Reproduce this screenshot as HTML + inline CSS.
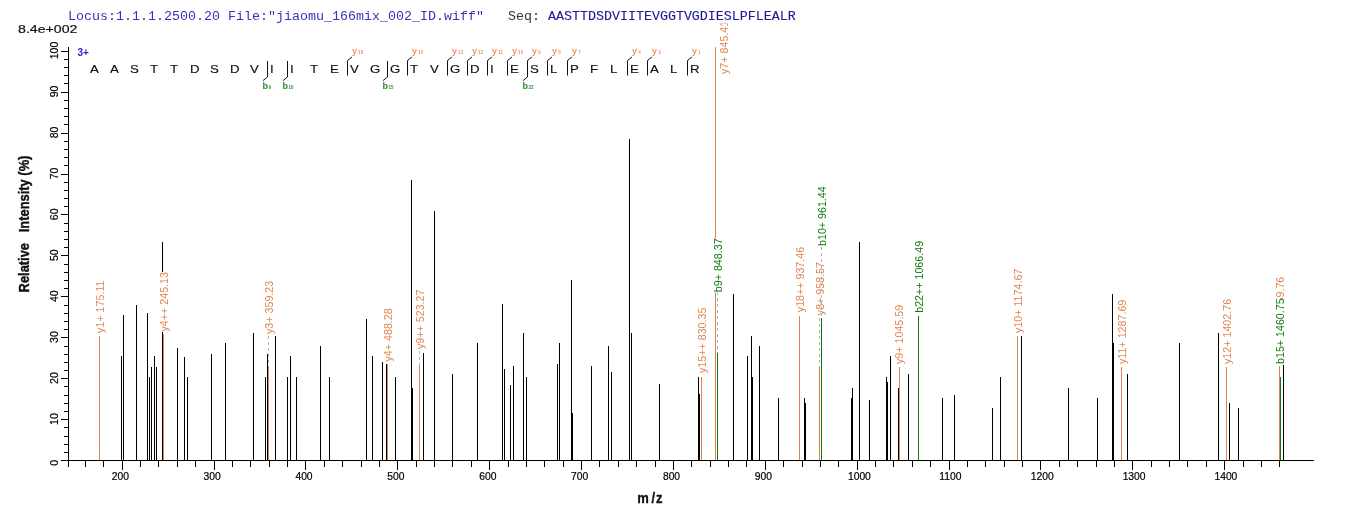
<!DOCTYPE html>
<html><head><meta charset="utf-8"><title>Spectrum</title>
<style>
html,body{margin:0;padding:0;background:#fff}
body{width:1362px;height:520px;position:relative;overflow:hidden}
.hdr{position:absolute;left:68px;top:9px;font-family:"Liberation Mono",monospace;font-size:13.33px;line-height:16px;white-space:pre;color:#3434bc;z-index:2}
.hdr .s{color:#333}
.hdr .q{color:#1c1c96;-webkit-text-stroke:0.12px #1c1c96}
</style></head><body>
<svg width="1362" height="520" viewBox="0 0 1362 520" style="position:absolute;left:0;top:0;font-family:'Liberation Sans',sans-serif">
<rect width="1362" height="520" fill="#fff"/>
<path d="M121.5 356V460.5M123.5 315V460.5M136.5 305V460.5M147.5 313V460.5M149.5 377V460.5M151.5 367V460.5M154.5 356V460.5M156.5 367V460.5M162.5 242V460.5M177.5 348V460.5M184.5 357V460.5M187.5 377V460.5M211.5 354V460.5M225.5 343V460.5M253.5 333V460.5M265.5 377V460.5M267.5 354V460.5M275.5 336V460.5M287.5 377V460.5M290.5 356V460.5M296.5 377V460.5M320.5 346V460.5M329.5 377V460.5M366.5 319V460.5M372.5 356V460.5M382.5 362V460.5M386.5 364V460.5M395.5 377V460.5M411.5 180V460.5M412.5 388V460.5M423.5 353V460.5M434.5 211V460.5M452.5 374V460.5M477.5 343V460.5M502.5 304V460.5M504.5 369V460.5M510.5 385V460.5M513.5 366V460.5M523.5 333V460.5M526.5 377V460.5M557.5 364V460.5M559.5 343V460.5M571.5 280V460.5M572.5 413V460.5M591.5 366V460.5M608.5 346V460.5M611.5 372V460.5M629.5 139V460.5M631.5 333V460.5M659.5 384V460.5M698.5 377V460.5M699.5 394V460.5M733.5 294V460.5M747.5 356V460.5M751.5 336V460.5M752.5 377V460.5M759.5 346V460.5M778.5 398V460.5M804.5 398V460.5M805.5 403V460.5M851.5 398V460.5M852.5 388V460.5M859.5 242V460.5M869.5 400V460.5M886.5 377V460.5M887.5 382V460.5M890.5 356V460.5M898.5 388V460.5M908.5 374V460.5M942.5 398V460.5M954.5 395V460.5M992.5 408V460.5M1000.5 377V460.5M1021.5 336V460.5M1068.5 388V460.5M1097.5 398V460.5M1112.5 294V460.5M1113.5 343V460.5M1127.5 374V460.5M1179.5 343V460.5M1218.5 333V460.5M1229.5 403V460.5M1238.5 408V460.5M1283.5 365V460.5" stroke="#000" stroke-width="1" fill="none" shape-rendering="crispEdges"/>
<path d="M99.5 336V460.5M163.5 334V460.5M268.5 366V460.5M387.5 364V460.5M419.5 365V460.5M701.5 377V460.5M715.5 47V460.5M799.5 315.5V460.5M819.5 366V460.5M899.5 367V460.5M1017.5 336V460.5M1121.5 367V460.5M1226.5 367V460.5M1279.5 366V460.5" stroke="#E2834F" stroke-width="1" fill="none" shape-rendering="crispEdges"/>
<rect x="93.5" y="278.9" width="13" height="54.5" fill="#fff"/>
<text transform="translate(103.5 332.9) rotate(-90)" font-size="10.7" fill="#E2834F">y1+ 175.11</text>
<rect x="157.5" y="272.1" width="13" height="59.9" fill="#fff"/>
<text transform="translate(167.5 331.5) rotate(-90)" font-size="10.7" fill="#E2834F">y4++ 245.13</text>
<rect x="262.5" y="280.0" width="13" height="54.5" fill="#fff"/>
<text transform="translate(272.5 334) rotate(-90)" font-size="10.7" fill="#E2834F">y3+ 359.23</text>
<rect x="381.5" y="307.5" width="13" height="54.5" fill="#fff"/>
<text transform="translate(391.5 361.5) rotate(-90)" font-size="10.7" fill="#E2834F">y4+ 488.28</text>
<rect x="413.5" y="289.6" width="13" height="59.9" fill="#fff"/>
<text transform="translate(423.5 349) rotate(-90)" font-size="10.7" fill="#E2834F">y9++ 523.27</text>
<rect x="696.0" y="308.2" width="13" height="65.3" fill="#fff"/>
<text transform="translate(706.0 373) rotate(-90)" font-size="10.7" fill="#E2834F">y15++ 830.35</text>
<rect x="793.5" y="247.4" width="13" height="65.3" fill="#fff"/>
<text transform="translate(803.5 312.2) rotate(-90)" font-size="10.7" fill="#E2834F">y18++ 937.46</text>
<rect x="813.5" y="261.2" width="13" height="54.5" fill="#fff"/>
<text transform="translate(823.5 315.2) rotate(-90)" font-size="10.7" fill="#E2834F">y8+ 958.57</text>
<rect x="892.5" y="304.6" width="13" height="59.9" fill="#fff"/>
<text transform="translate(902.5 364) rotate(-90)" font-size="10.7" fill="#E2834F">y9+ 1045.59</text>
<rect x="1011.5" y="268.2" width="13" height="65.3" fill="#fff"/>
<text transform="translate(1021.5 333) rotate(-90)" font-size="10.7" fill="#E2834F">y10+ 1174.67</text>
<rect x="1115.5" y="299.2" width="13" height="65.3" fill="#fff"/>
<text transform="translate(1125.5 364) rotate(-90)" font-size="10.7" fill="#E2834F">y11+ 1287.69</text>
<rect x="1220.5" y="299.2" width="13" height="65.3" fill="#fff"/>
<text transform="translate(1230.5 364) rotate(-90)" font-size="10.7" fill="#E2834F">y12+ 1402.76</text>
<rect x="1273.8" y="277.0" width="13" height="65.3" fill="#fff"/>
<text transform="translate(1283.8 341.8) rotate(-90)" font-size="10.7" fill="#E2834F">y13+ 1459.76</text>
<path d="M268.5 336V366M419.5 351V365" stroke="#b0b6b0" stroke-width="1" stroke-dasharray="3 3" fill="none" shape-rendering="crispEdges"/>
<clipPath id="c7"><rect x="700" y="23.5" width="60" height="100"/></clipPath>
<g clip-path="url(#c7)"><text transform="translate(727.5 74) rotate(-90)" font-size="10.7" fill="#E2834F">y7+ 845.41</text></g>
<path d="M717.5 353V460.5M821.5 318V460.5M918.5 315.5V460.5M1280.5 377V460.5" stroke="#0E7A0E" stroke-width="1" fill="none" shape-rendering="crispEdges"/>
<rect x="712.0" y="238.2" width="13" height="54.5" fill="#fff"/>
<text transform="translate(722.0 292.2) rotate(-90)" font-size="10.7" fill="#0E7A0E">b9+ 848.37</text>
<rect x="815.5" y="186.6" width="13" height="59.9" fill="#fff"/>
<text transform="translate(825.5 246) rotate(-90)" font-size="10.7" fill="#0E7A0E">b10+ 961.44</text>
<rect x="912.5" y="242.6" width="13" height="70.7" fill="#fff"/>
<text transform="translate(922.5 312.8) rotate(-90)" font-size="10.7" fill="#0E7A0E">b22++ 1066.49</text>
<rect x="1273.8" y="299.2" width="13" height="65.3" fill="#fff"/>
<text transform="translate(1283.8 364) rotate(-90)" font-size="10.7" fill="#0E7A0E">b15+ 1460.75</text>
<path d="M717.5 292V353M819.5 318V366M821.5 247V318" stroke="#b0b6b0" stroke-width="1" stroke-dasharray="3 3" fill="none" shape-rendering="crispEdges"/>
<path d="M68.5 47V467M68 460.5H1314M61 460.5H68M64 452.5H68M64 444.5H68M64 436.5H68M64 427.5H68M61 419.5H68M64 411.5H68M64 403.5H68M64 395.5H68M64 386.5H68M61 378.5H68M64 370.5H68M64 362.5H68M64 354.5H68M64 346.5H68M61 337.5H68M64 329.5H68M64 321.5H68M64 313.5H68M64 305.5H68M61 296.5H68M64 288.5H68M64 280.5H68M64 272.5H68M64 264.5H68M61 255.5H68M64 247.5H68M64 239.5H68M64 231.5H68M64 223.5H68M61 214.5H68M64 206.5H68M64 198.5H68M64 190.5H68M64 182.5H68M61 174.5H68M64 165.5H68M64 157.5H68M64 149.5H68M64 141.5H68M61 133.5H68M64 124.5H68M64 116.5H68M64 108.5H68M64 100.5H68M61 92.5H68M64 83.5H68M64 75.5H68M64 67.5H68M64 59.5H68M61 51.5H68M85.5 460V467M103.5 460V467M122.5 460V470M140.5 460V467M158.5 460V467M177.5 460V467M195.5 460V467M214.5 460V470M232.5 460V467M250.5 460V467M269.5 460V467M287.5 460V467M305.5 460V470M324.5 460V467M342.5 460V467M361.5 460V467M379.5 460V467M397.5 460V470M416.5 460V467M434.5 460V467M452.5 460V467M471.5 460V467M489.5 460V470M508.5 460V467M526.5 460V467M544.5 460V467M563.5 460V467M581.5 460V470M599.5 460V467M618.5 460V467M636.5 460V467M655.5 460V467M673.5 460V470M691.5 460V467M710.5 460V467M728.5 460V467M746.5 460V467M765.5 460V470M783.5 460V467M802.5 460V467M820.5 460V467M838.5 460V467M857.5 460V470M875.5 460V467M893.5 460V467M912.5 460V467M930.5 460V467M949.5 460V470M967.5 460V467M985.5 460V467M1004.5 460V467M1022.5 460V467M1040.5 460V470M1059.5 460V467M1077.5 460V467M1096.5 460V467M1114.5 460V467M1132.5 460V470M1151.5 460V467M1169.5 460V467M1187.5 460V467M1206.5 460V467M1224.5 460V470M1243.5 460V467M1261.5 460V467M1279.5 460V467" stroke="#000" stroke-width="1" fill="none" shape-rendering="crispEdges"/>
<text x="120.3" y="480" font-size="10.3" text-anchor="middle" fill="#000" stroke="#000" stroke-width="0.2">200</text>
<text x="212.2" y="480" font-size="10.3" text-anchor="middle" fill="#000" stroke="#000" stroke-width="0.2">300</text>
<text x="304.0" y="480" font-size="10.3" text-anchor="middle" fill="#000" stroke="#000" stroke-width="0.2">400</text>
<text x="395.9" y="480" font-size="10.3" text-anchor="middle" fill="#000" stroke="#000" stroke-width="0.2">500</text>
<text x="487.8" y="480" font-size="10.3" text-anchor="middle" fill="#000" stroke="#000" stroke-width="0.2">600</text>
<text x="579.6" y="480" font-size="10.3" text-anchor="middle" fill="#000" stroke="#000" stroke-width="0.2">700</text>
<text x="671.5" y="480" font-size="10.3" text-anchor="middle" fill="#000" stroke="#000" stroke-width="0.2">800</text>
<text x="763.4" y="480" font-size="10.3" text-anchor="middle" fill="#000" stroke="#000" stroke-width="0.2">900</text>
<text x="859.4" y="480" font-size="10.3" text-anchor="middle" fill="#000" stroke="#000" stroke-width="0.2">1000</text>
<text x="950.3" y="480" font-size="10.3" text-anchor="middle" fill="#000" stroke="#000" stroke-width="0.2">1100</text>
<text x="1042.2" y="480" font-size="10.3" text-anchor="middle" fill="#000" stroke="#000" stroke-width="0.2">1200</text>
<text x="1134.1" y="480" font-size="10.3" text-anchor="middle" fill="#000" stroke="#000" stroke-width="0.2">1300</text>
<text x="1225.9" y="480" font-size="10.3" text-anchor="middle" fill="#000" stroke="#000" stroke-width="0.2">1400</text>
<text transform="translate(58 462.8) rotate(-90) scale(1 1.05)" font-size="10.5" text-anchor="middle" fill="#000" stroke="#000" stroke-width="0.2">0</text>
<text transform="translate(58 419.1) rotate(-90) scale(1 1.05)" font-size="10.5" text-anchor="middle" fill="#000" stroke="#000" stroke-width="0.2">10</text>
<text transform="translate(58 378.1) rotate(-90) scale(1 1.05)" font-size="10.5" text-anchor="middle" fill="#000" stroke="#000" stroke-width="0.2">20</text>
<text transform="translate(58 337.1) rotate(-90) scale(1 1.05)" font-size="10.5" text-anchor="middle" fill="#000" stroke="#000" stroke-width="0.2">30</text>
<text transform="translate(58 296.2) rotate(-90) scale(1 1.05)" font-size="10.5" text-anchor="middle" fill="#000" stroke="#000" stroke-width="0.2">40</text>
<text transform="translate(58 255.2) rotate(-90) scale(1 1.05)" font-size="10.5" text-anchor="middle" fill="#000" stroke="#000" stroke-width="0.2">50</text>
<text transform="translate(58 214.3) rotate(-90) scale(1 1.05)" font-size="10.5" text-anchor="middle" fill="#000" stroke="#000" stroke-width="0.2">60</text>
<text transform="translate(58 173.4) rotate(-90) scale(1 1.05)" font-size="10.5" text-anchor="middle" fill="#000" stroke="#000" stroke-width="0.2">70</text>
<text transform="translate(58 132.4) rotate(-90) scale(1 1.05)" font-size="10.5" text-anchor="middle" fill="#000" stroke="#000" stroke-width="0.2">80</text>
<text transform="translate(58 91.5) rotate(-90) scale(1 1.05)" font-size="10.5" text-anchor="middle" fill="#000" stroke="#000" stroke-width="0.2">90</text>
<text transform="translate(58 50.5) rotate(-90) scale(1 1.05)" font-size="10.5" text-anchor="middle" fill="#000" stroke="#000" stroke-width="0.2">100</text>
<text transform="translate(0 502.7) scale(1 1.08)" x="637.3 651.4 656.1" y="0" font-size="13" font-weight="bold" fill="#111" stroke="#111" stroke-width="0.3">m/z</text>
<text transform="translate(28.6 224) rotate(-90) scale(1 1.13)" font-size="12.9" font-weight="bold" text-anchor="middle" fill="#111" stroke="#111" stroke-width="0.35" style="white-space:pre" xml:space="preserve">Relative   Intensity (%)</text>
<text x="18" y="32.8" font-size="11.8" fill="#111" stroke="#111" stroke-width="0.2" textLength="59.5" lengthAdjust="spacingAndGlyphs">8.4e+002</text>
<text x="77.5" y="55.7" font-size="10" font-weight="bold" fill="#2a1ccc">3+</text>
<text transform="translate(90 72.7) scale(1.16 1)" font-size="11.4" fill="#111" stroke="#111" stroke-width="0.15">A</text>
<text transform="translate(110 72.7) scale(1.16 1)" font-size="11.4" fill="#111" stroke="#111" stroke-width="0.15">A</text>
<text transform="translate(130 72.7) scale(1.16 1)" font-size="11.4" fill="#111" stroke="#111" stroke-width="0.15">S</text>
<text transform="translate(150 72.7) scale(1.16 1)" font-size="11.4" fill="#111" stroke="#111" stroke-width="0.15">T</text>
<text transform="translate(170 72.7) scale(1.16 1)" font-size="11.4" fill="#111" stroke="#111" stroke-width="0.15">T</text>
<text transform="translate(190 72.7) scale(1.16 1)" font-size="11.4" fill="#111" stroke="#111" stroke-width="0.15">D</text>
<text transform="translate(210 72.7) scale(1.16 1)" font-size="11.4" fill="#111" stroke="#111" stroke-width="0.15">S</text>
<text transform="translate(230 72.7) scale(1.16 1)" font-size="11.4" fill="#111" stroke="#111" stroke-width="0.15">D</text>
<text transform="translate(250 72.7) scale(1.16 1)" font-size="11.4" fill="#111" stroke="#111" stroke-width="0.15">V</text>
<text transform="translate(270 72.7) scale(1.16 1)" font-size="11.4" fill="#111" stroke="#111" stroke-width="0.15">I</text>
<text transform="translate(290 72.7) scale(1.16 1)" font-size="11.4" fill="#111" stroke="#111" stroke-width="0.15">I</text>
<text transform="translate(310 72.7) scale(1.16 1)" font-size="11.4" fill="#111" stroke="#111" stroke-width="0.15">T</text>
<text transform="translate(330 72.7) scale(1.16 1)" font-size="11.4" fill="#111" stroke="#111" stroke-width="0.15">E</text>
<text transform="translate(350 72.7) scale(1.16 1)" font-size="11.4" fill="#111" stroke="#111" stroke-width="0.15">V</text>
<text transform="translate(370 72.7) scale(1.16 1)" font-size="11.4" fill="#111" stroke="#111" stroke-width="0.15">G</text>
<text transform="translate(390 72.7) scale(1.16 1)" font-size="11.4" fill="#111" stroke="#111" stroke-width="0.15">G</text>
<text transform="translate(410 72.7) scale(1.16 1)" font-size="11.4" fill="#111" stroke="#111" stroke-width="0.15">T</text>
<text transform="translate(430 72.7) scale(1.16 1)" font-size="11.4" fill="#111" stroke="#111" stroke-width="0.15">V</text>
<text transform="translate(450 72.7) scale(1.16 1)" font-size="11.4" fill="#111" stroke="#111" stroke-width="0.15">G</text>
<text transform="translate(470 72.7) scale(1.16 1)" font-size="11.4" fill="#111" stroke="#111" stroke-width="0.15">D</text>
<text transform="translate(490 72.7) scale(1.16 1)" font-size="11.4" fill="#111" stroke="#111" stroke-width="0.15">I</text>
<text transform="translate(510 72.7) scale(1.16 1)" font-size="11.4" fill="#111" stroke="#111" stroke-width="0.15">E</text>
<text transform="translate(530 72.7) scale(1.16 1)" font-size="11.4" fill="#111" stroke="#111" stroke-width="0.15">S</text>
<text transform="translate(550 72.7) scale(1.16 1)" font-size="11.4" fill="#111" stroke="#111" stroke-width="0.15">L</text>
<text transform="translate(570 72.7) scale(1.16 1)" font-size="11.4" fill="#111" stroke="#111" stroke-width="0.15">P</text>
<text transform="translate(590 72.7) scale(1.16 1)" font-size="11.4" fill="#111" stroke="#111" stroke-width="0.15">F</text>
<text transform="translate(610 72.7) scale(1.16 1)" font-size="11.4" fill="#111" stroke="#111" stroke-width="0.15">L</text>
<text transform="translate(630 72.7) scale(1.16 1)" font-size="11.4" fill="#111" stroke="#111" stroke-width="0.15">E</text>
<text transform="translate(650 72.7) scale(1.16 1)" font-size="11.4" fill="#111" stroke="#111" stroke-width="0.15">A</text>
<text transform="translate(670 72.7) scale(1.16 1)" font-size="11.4" fill="#111" stroke="#111" stroke-width="0.15">L</text>
<text transform="translate(690 72.7) scale(1.16 1)" font-size="11.4" fill="#111" stroke="#111" stroke-width="0.15">R</text>
<text x="352.1" y="53.6" font-size="9" font-weight="bold" fill="#F2956B">y<tspan font-size="4.5" dx="1.2" dy="0">18</tspan></text>
<text x="412.1" y="53.6" font-size="9" font-weight="bold" fill="#F2956B">y<tspan font-size="4.5" dx="1.2" dy="0">15</tspan></text>
<text x="452.1" y="53.6" font-size="9" font-weight="bold" fill="#F2956B">y<tspan font-size="4.5" dx="1.2" dy="0">13</tspan></text>
<text x="472.1" y="53.6" font-size="9" font-weight="bold" fill="#F2956B">y<tspan font-size="4.5" dx="1.2" dy="0">12</tspan></text>
<text x="492.1" y="53.6" font-size="9" font-weight="bold" fill="#F2956B">y<tspan font-size="4.5" dx="1.2" dy="0">11</tspan></text>
<text x="512.1" y="53.6" font-size="9" font-weight="bold" fill="#F2956B">y<tspan font-size="4.5" dx="1.2" dy="0">10</tspan></text>
<text x="532.1" y="53.6" font-size="9" font-weight="bold" fill="#F2956B">y<tspan font-size="4.5" dx="1.2" dy="0">9</tspan></text>
<text x="552.1" y="53.6" font-size="9" font-weight="bold" fill="#F2956B">y<tspan font-size="4.5" dx="1.2" dy="0">8</tspan></text>
<text x="572.1" y="53.6" font-size="9" font-weight="bold" fill="#F2956B">y<tspan font-size="4.5" dx="1.2" dy="0">7</tspan></text>
<text x="632.1" y="53.6" font-size="9" font-weight="bold" fill="#F2956B">y<tspan font-size="4.5" dx="1.2" dy="0">4</tspan></text>
<text x="652.1" y="53.6" font-size="9" font-weight="bold" fill="#F2956B">y<tspan font-size="4.5" dx="1.2" dy="0">3</tspan></text>
<text x="692.1" y="53.6" font-size="9" font-weight="bold" fill="#F2956B">y<tspan font-size="4.5" dx="1.2" dy="0">1</tspan></text>
<text x="262.5" y="88.8" font-size="9" font-weight="bold" fill="#2E8B2E">b<tspan font-size="4.5" dx="0.6">9</tspan></text>
<text x="282.5" y="88.8" font-size="9" font-weight="bold" fill="#2E8B2E">b<tspan font-size="4.5" dx="0.6">10</tspan></text>
<text x="382.5" y="88.8" font-size="9" font-weight="bold" fill="#2E8B2E">b<tspan font-size="4.5" dx="0.6">15</tspan></text>
<text x="522.5" y="88.8" font-size="9" font-weight="bold" fill="#2E8B2E">b<tspan font-size="4.5" dx="0.6">22</tspan></text>
<path d="M347.5 75.5V60.5L352.0 57M407.5 75.5V60.5L412.0 57M447.5 75.5V60.5L452.0 57M467.5 75.5V60.5L472.0 57M487.5 75.5V60.5L492.0 57M507.5 75.5V60.5L512.0 57M527.5 75.5V60.5L532.0 57M547.5 75.5V60.5L552.0 57M567.5 75.5V60.5L572.0 57M627.5 75.5V60.5L632.0 57M647.5 75.5V60.5L652.0 57M687.5 75.5V60.5L692.0 57M267.5 61V77L263.0 80.6M287.5 61V77L283.0 80.6M387.5 61V77L383.0 80.6M527.5 61V77L523.0 80.6" stroke="#111" stroke-width="1" fill="none"/>
</svg>
<div class="hdr">Locus:1.1.1.2500.20 File:"jiaomu_166mix_002_ID.wiff"   <span class="s">Seq:</span> <span class="q">AASTTDSDVIITEVGGTVGDIESLPFLEALR</span></div>
</body></html>
